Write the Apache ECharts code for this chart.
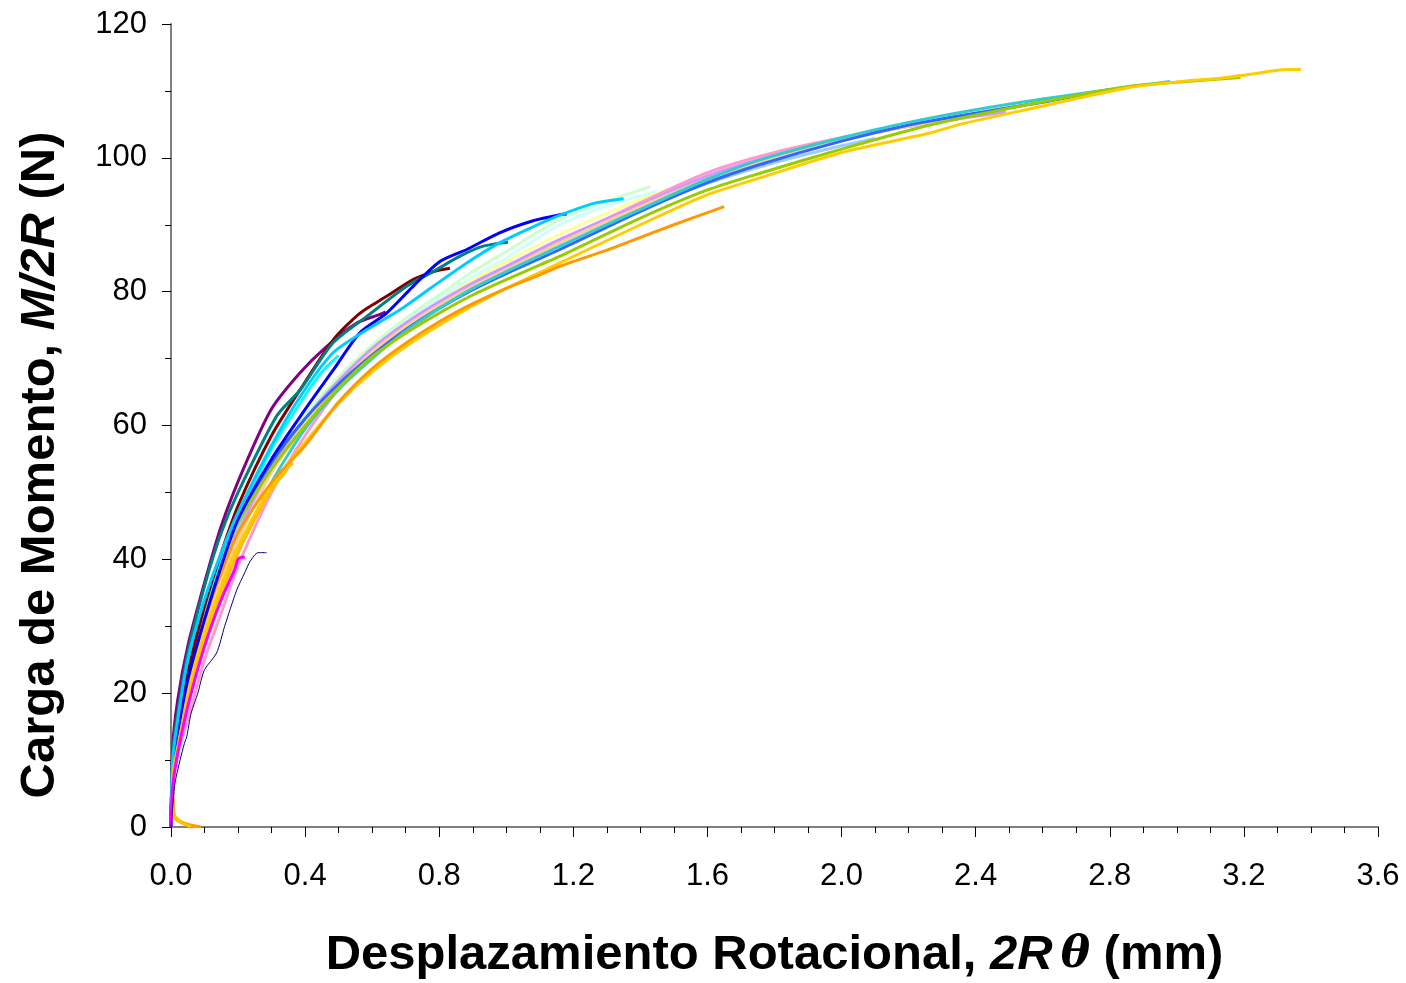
<!DOCTYPE html>
<html><head><meta charset="utf-8">
<script src="https://cdn.jsdelivr.net/npm/echarts@6/dist/echarts.min.js"></script>
<style>html,body{margin:0;padding:0;background:#fff}#c{width:1406px;height:983px}</style>
</head><body><div id="c"></div>
<script>
// ---- data (x = rotational displacement 2Rθ in mm, y = moment load M/2R in N) ----
const xTicks = [0, 0.4, 0.8, 1.2, 1.6, 2.0, 2.4, 2.8, 3.2, 3.6];
const yTicks = [0, 20, 40, 60, 80, 100, 120];

const s01 = [[0,0],[0.005,3],[0.012,6.6],[0.027,10],[0.04,12.5],[0.047,13.5],[0.06,17],[0.08,20],[0.1,23.5],[0.136,26],[0.16,30],[0.196,35.4],[0.22,38],[0.236,39.7],[0.26,41],[0.285,41]];
const s02 = [[0,0],[0.005,6],[0.02,11],[0.05,18],[0.1,27],[0.15,34],[0.19,38.5],[0.2,40],[0.21,40.3],[0.22,40.3]];
const s03 = [[0.06,0],[0.02,1],[0.005,2],[0.004,7],[0.02,12],[0.05,19],[0.1,28],[0.15,35],[0.2,41],[0.25,46],[0.3,50.5],[0.34,53],[0.35,53.8],[0.364,54.4]];
const s04 = [[0,0],[0.005,10],[0.02,16],[0.05,24],[0.1,33],[0.15,40],[0.2,46],[0.3,56.5],[0.4,64.5],[0.45,68],[0.5,70.5]];
const s05 = [[0,0],[0.005,12],[0.02,19],[0.05,27],[0.1,36.5],[0.15,45],[0.215,53.4],[0.3,62.5],[0.385,67.9],[0.464,71.8],[0.554,75.3],[0.623,76.6],[0.64,77]];
const s06 = [[0,0],[0.005,9],[0.02,15],[0.05,23],[0.1,33],[0.15,41],[0.2,48],[0.3,58.5],[0.4,66.5],[0.484,72.8],[0.564,76.8],[0.643,79.3],[0.722,81.8],[0.782,83],[0.832,83.5]];
const s07 = [[0,0],[0.005,11],[0.02,17],[0.05,26],[0.1,36],[0.15,44],[0.2,50],[0.315,61.4],[0.385,65.3],[0.484,72.4],[0.584,76.3],[0.703,80.8],[0.782,83],[0.862,85.3],[0.931,86.8],[1.005,87.4]];
const s08 = [[0,0],[0.005,8],[0.02,14],[0.05,22],[0.1,31],[0.15,39],[0.2,46],[0.3,55],[0.4,62.4],[0.484,68.3],[0.564,73.9],[0.643,76.8],[0.722,80.8],[0.802,84.5],[0.882,86.3],[0.98,88.8],[1.08,90.6],[1.16,91.5],[1.18,91.6]];
const s09 = [[0,0],[0.005,10],[0.02,16],[0.05,25],[0.1,34],[0.15,41],[0.2,47],[0.3,57],[0.385,64.3],[0.484,70.9],[0.584,74.3],[0.683,77.3],[0.782,80.8],[0.882,84.3],[0.98,87.3],[1.08,89.7],[1.18,91.8],[1.27,93.3],[1.35,93.9]];
const s10 = [[0,0],[0.005,9],[0.02,15],[0.05,23],[0.1,32],[0.15,39],[0.2,45],[0.3,54.5],[0.4,61],[0.5,66.8],[0.6,71.5],[0.7,75.6],[0.8,79],[0.9,82.2],[1.0,85],[1.16,90],[1.3,92.8],[1.45,95]];
const s11 = [[0,0],[0.005,9],[0.02,15],[0.05,23],[0.1,32],[0.15,39],[0.2,45],[0.3,54.5],[0.4,61.5],[0.5,67.3],[0.6,72],[0.7,76],[0.8,79.5],[0.9,83],[1.0,86],[1.16,90.8],[1.3,93.5],[1.43,95.7]];
const s12 = [[0,0],[0.005,8],[0.02,14],[0.05,22],[0.1,31],[0.15,38],[0.2,44],[0.3,53.5],[0.4,60.5],[0.5,66.3],[0.6,71],[0.7,75],[0.8,78.5],[0.9,81.7],[1.0,84.5],[1.16,88.6],[1.4,93.8],[1.6,97.2]];
const s13 = [[0,0],[0.005,9],[0.02,15],[0.05,23],[0.1,32],[0.15,39],[0.2,45],[0.3,54],[0.4,61],[0.5,66.6],[0.6,71.5],[0.7,75.2],[0.8,78.3],[0.9,81.1],[1.0,83.5],[1.2,88.3],[1.4,92.5],[1.6,96.2],[1.8,99.3],[2.0,101.8],[2.1,102.9]];
const s14 = [[0,0],[0.005,6],[0.02,11],[0.05,16],[0.1,25],[0.15,32],[0.2,39],[0.3,50],[0.4,58.5],[0.5,65.5],[0.6,71],[0.7,74.9],[0.8,78],[0.9,81],[1.0,83.5],[1.16,87.5],[1.4,93.3],[1.6,97.8],[1.8,100.8],[2.0,103],[2.2,104.7],[2.27,105.3]];
const s15 = [[0,0],[0.005,8],[0.02,14],[0.05,22],[0.1,31],[0.15,38],[0.2,44],[0.3,54],[0.4,61],[0.5,66.7],[0.6,71.5],[0.7,75.3],[0.8,78.5],[0.9,81.3],[1.0,83.8],[1.16,87.8],[1.4,93],[1.6,97.3],[1.8,100.4],[2.0,102.8],[2.2,104.7],[2.4,106.2],[2.49,106.9]];
const s16 = [[0,0],[0.005,7],[0.02,13],[0.05,21],[0.1,30],[0.15,37],[0.2,43],[0.3,53],[0.4,60],[0.5,66],[0.6,71],[0.7,74.8],[0.8,78],[0.9,80.8],[1.0,83.3],[1.16,87.3],[1.4,92.7],[1.6,96.8],[1.8,100],[2.0,102.6],[2.2,104.7],[2.4,106.6],[2.59,108.4]];
const s17 = [[0,0],[0.005,10],[0.02,16],[0.05,24],[0.1,33],[0.15,40],[0.2,46],[0.3,54.5],[0.4,61],[0.5,66.2],[0.6,70.5],[0.7,74.3],[0.8,77.5],[0.9,80.3],[1.0,82.7],[1.16,86.3],[1.4,92],[1.6,96.3],[1.757,99],[2.0,102.5],[2.2,104.9],[2.353,106.3],[2.6,108.3],[2.8,110.2]];
const s18 = [[0,0],[0.005,7],[0.02,12],[0.05,19],[0.1,28],[0.15,35],[0.2,41],[0.3,51.5],[0.4,59.5],[0.5,65.4],[0.6,70],[0.7,74.1],[0.8,77.5],[0.9,80.5],[1.0,83],[1.16,86.8],[1.4,92.3],[1.6,96.8],[1.757,99.7],[2.0,103],[2.2,105.3],[2.4,107.2],[2.6,108.8],[2.8,110.2],[2.98,111.4]];
const s19 = [[0,0],[0.005,10],[0.02,16],[0.05,24],[0.1,33],[0.15,40],[0.2,45.5],[0.3,53.5],[0.4,60],[0.5,65.6],[0.6,70.3],[0.7,73.8],[0.8,76.8],[0.9,79.5],[1.0,81.8],[1.16,85.3],[1.4,91],[1.6,95.2],[1.757,97.7],[2.0,101.3],[2.264,104.9],[2.562,108],[2.86,110.7],[3.0,111.3],[3.19,112]];
const s20 = [[0.08,0],[0.03,0.8],[0.008,2],[0.004,8],[0.02,13],[0.05,20],[0.1,29],[0.15,36],[0.2,42],[0.3,51],[0.4,57.5],[0.5,63.3],[0.6,68],[0.7,71.8],[0.8,75],[0.9,77.9],[1.0,80.5],[1.16,84.3],[1.4,90],[1.6,94.5],[1.757,97],[2.0,100.8],[2.264,103.7],[2.353,105],[2.56,107.3],[2.86,110.5],[3.03,111.5],[3.13,111.9],[3.22,112.5],[3.33,113.2],[3.37,113.2]];
const s21 = [[0.09,0],[0.04,0.5],[0.01,1.5],[0.005,9],[0.02,14.5],[0.05,22],[0.1,31],[0.15,38],[0.2,44],[0.3,51.5],[0.4,57],[0.5,63.5],[0.6,68.5],[0.7,72.3],[0.8,75.5],[0.9,78.2],[1.0,80.5],[1.1,82.5],[1.16,83.8],[1.3,86.2],[1.41,88.3],[1.5,90],[1.6,91.8],[1.65,92.7]];

const seriesData = [s01,s02,s03,s04,s05,s06,s07,s08,s09,s10,s11,s12,s13,s14,s15,s16,s17,s18,s19,s20,s21];
const seriesColors = ['#000080','#FF00FF','#FFC000','#00FFFF','#800080','#800000','#008080','#0000FF','#00CCFF','#CCFFFF','#CCFFCC','#FFFF99','#99CCFF','#FF99CC','#CC99FF','#FFCC99','#3366FF','#33CCCC','#99CC00','#FFCC00','#FF9900'];
const seriesWidths = [1,3,3,3,3,3,3,3,3,3,3,3,3,3,3,3,3,3,3,3,3];

// draw order: pastel bundle first, strong colors on top
const drawOrder = [9,10,11,12,13,14,15,16,17,18,19,20,3,4,5,6,7,8,2,1,0];

const chart = echarts.init(document.getElementById('c'), null, {renderer:'canvas'});
const font = 'Liberation Sans, Arial, Helvetica, sans-serif';
const series = drawOrder.map((i, k) => ({
  type: 'line', data: seriesData[i], showSymbol: false, symbol: 'none', smooth: 0.25,
  lineStyle: {color: seriesColors[i], width: seriesWidths[i], join: 'round'},
  z: 2 + k * 0.01, animation: false, silent: true
}));

chart.setOption({
  animation: false,
  backgroundColor: '#fff',
  grid: {left: 171, right: 28, top: 24, bottom: 156, containLabel: false, outerBoundsMode: 'none'},
  xAxis: {
    type: 'value', min: 0, max: 3.6, interval: 0.4,
    axisLine: {show: true, onZero: false, lineStyle: {color: '#7f7f7f', width: 2}},
    axisTick: {show: true, length: 10, lineStyle: {color: '#000', width: 1}},
    minorTick: {show: true, splitNumber: 4, length: 6, lineStyle: {color: '#000', width: 1}},
    splitLine: {show: false},
    axisLabel: {fontFamily: font, fontSize: 31, color: '#000', margin: 34,
      formatter: v => xTicks.includes(Math.round(v*10)/10) ? v.toFixed(1) : ''},
    name: 'Desplazamiento Rotacional, {i|2R}{t|θ} (mm)',
    nameLocation: 'middle', nameGap: 104,
    nameTextStyle: {fontFamily: font, fontSize: 49, fontWeight: 'bold', color: '#000',
      rich: {i: {fontFamily: font, fontSize: 49, fontWeight: 'bold', fontStyle: 'italic', color: '#000'},
             t: {fontFamily: 'DejaVu Serif, serif', fontSize: 44, fontStyle: 'italic', color: '#000', padding:[0,0,0,8]}}}
  },
  yAxis: {
    type: 'value', min: 0, max: 120, interval: 20,
    axisLine: {show: true, onZero: false, lineStyle: {color: '#7f7f7f', width: 2}},
    axisTick: {show: true, length: 9, lineStyle: {color: '#000', width: 1}},
    minorTick: {show: true, splitNumber: 2, length: 6, lineStyle: {color: '#000', width: 1}},
    splitLine: {show: false},
    axisLabel: {fontFamily: font, fontSize: 31, color: '#000', margin: 24,
      formatter: v => yTicks.includes(v) ? String(v) : ''}
  },
  graphic: [{
    type: 'text', x: 40, y: 465, rotation: Math.PI / 2,
    style: {
      text: 'Carga de Momento, {i|M/2R} (N)',
      font: 'bold 49px ' + font, fill: '#000', align: 'center', verticalAlign: 'middle',
      rich: {i: {font: 'italic bold 49px ' + font, fill: '#000'}}
    }
  }],
  series: series
});
</script></body></html>
